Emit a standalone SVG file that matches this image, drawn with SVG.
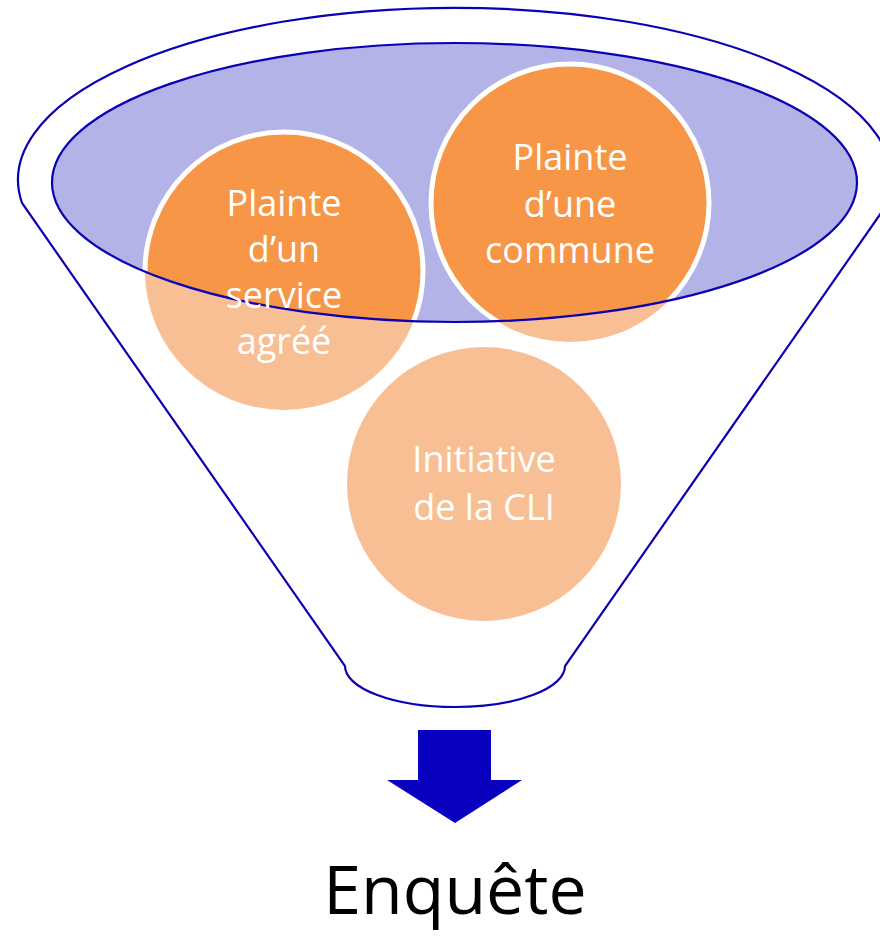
<svg xmlns="http://www.w3.org/2000/svg" width="880" height="937" viewBox="0 0 880 937">
<style>
.ln{fill:none;stroke:#0A00B4;stroke-width:2.2}
.dk{fill:#F79646;stroke:#FFFFFF;stroke-width:5}
.lt{fill:#F9BF94}
.t{font-family:"Open Sans","Noto Sans",sans-serif;font-size:36px;fill:#FFFFFF;text-anchor:middle}
</style>
<defs>
<clipPath id="inner"><ellipse cx="454.5" cy="182.5" rx="402.5" ry="139.5"/></clipPath>
</defs>
<g id="funnel">
<path class="ln" d="M22 203 A437 172 0 1 1 888 203 L565 666 A110 41 0 0 1 345 666 Z" style="fill:#FFFFFF"/>
<ellipse cx="454.5" cy="182.5" rx="402.5" ry="139.5" fill="#B3B3E8"/>
</g>
<g id="node-service">
<circle class="lt" cx="284" cy="271" r="139"/>
<circle class="dk" cx="284" cy="271" r="139" clip-path="url(#inner)"/>
</g>
<g id="node-commune">
<circle class="lt" cx="570" cy="203" r="139"/>
<circle class="dk" cx="570" cy="203" r="139" clip-path="url(#inner)"/>
</g>
<g id="funnel-rim">
<ellipse class="ln" cx="454.5" cy="182.5" rx="402.5" ry="139.5"/>
</g>
<g id="node-cli">
<circle class="lt" cx="484" cy="484" r="137"/>
</g>
<g id="labels">
<text class="t"><tspan x="284" y="216">Plainte</tspan><tspan x="284" y="262">d’un</tspan><tspan x="284" y="308">service</tspan><tspan x="284" y="354">agréé</tspan></text>
<text class="t"><tspan x="570" y="170">Plainte</tspan><tspan x="570" y="217">d’une</tspan><tspan x="570" y="263">commune</tspan></text>
<text class="t"><tspan x="484" y="472">Initiative</tspan><tspan x="484" y="520">de la CLI</tspan></text>
</g>
<g id="connectors">
<path d="M418 730 H491 V780 H522 L455 823 L387 780 H418 Z" fill="#0A00BF"/>
</g>
<g id="node-enquete">
<text x="455" y="914" font-family="Open Sans, Noto Sans, sans-serif" font-size="68" fill="#000000" text-anchor="middle">Enquête</text>
</g>
</svg>
